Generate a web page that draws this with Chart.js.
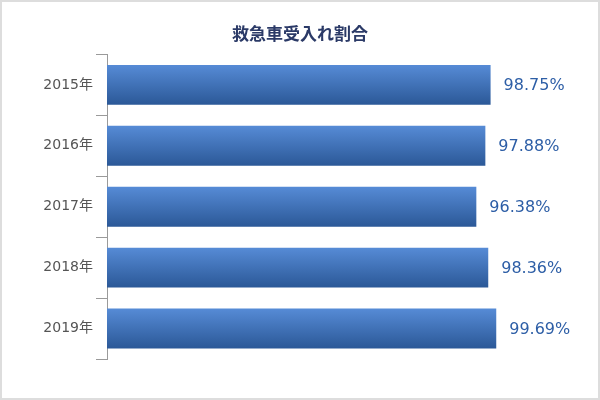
<!DOCTYPE html>
<html lang="ja">
<head>
<meta charset="utf-8">
<script src="https://cdn.jsdelivr.net/npm/chart.js@4"></script>
<style>
  html, body { margin: 0; padding: 0; background: #fff; }
  #wrap { width: 600px; height: 400px; box-sizing: border-box; border: 2px solid #dddddd; position: relative; }
  #wrap canvas { display: block; }
</style>
</head>
<body>
<div id="wrap"><canvas id="rateChart"></canvas></div>
<script>
// chart data
const years = ["2015年", "2016年", "2017年", "2018年", "2019年"];
const acceptRates = [98.75, 97.88, 96.38, 98.36, 99.69];
const chartTitle = "救急車受入れ割合";

const barShare = 0.655;

// vertical gradient for each bar, worked out from the category scale
function barFill(c) {
    const ys = c.chart.scales.y;
    if (!ys || !ys.height) return "#3f70b8";
    const mid = ys.getPixelForValue(c.dataIndex);
    const half = ys.height / years.length * barShare / 2;
    const g = c.chart.ctx.createLinearGradient(0, mid - half, 0, mid + half);
    g.addColorStop(0, "#568bd6");
    g.addColorStop(1, "#2b5897");
    return g;
}

// value labels to the right of each bar
const valueLabels = {
    id: "valueLabels",
    afterDatasetsDraw(chart) {
        const ctx = chart.ctx;
        ctx.save();
        ctx.font = "16px 'DejaVu Sans'";
        ctx.fillStyle = "#2d5ea6";
        ctx.textAlign = "left";
        ctx.textBaseline = "middle";
        chart.getDatasetMeta(0).data.forEach((bar, i) => {
            ctx.fillText(acceptRates[i].toFixed(2) + "%", bar.x + 13, bar.y + 1);
        });
        ctx.restore();
    }
};

new Chart(document.getElementById("rateChart"), {
    type: "bar",
    data: {
        labels: years,
        datasets: [{
            data: acceptRates,
            backgroundColor: barFill,
            barPercentage: barShare,
            categoryPercentage: 1
        }]
    },
    options: {
        indexAxis: "y",
        responsive: true,
        maintainAspectRatio: false,
        animation: false,
        layout: { padding: { bottom: 39 } },
        plugins: {
            legend: { display: false },
            tooltip: { enabled: false },
            title: {
                display: true,
                text: chartTitle,
                color: "#2b3a67",
                font: { family: "'Noto Sans CJK JP'", size: 17, weight: "bold" },
                padding: { top: 21, bottom: 11 }
            }
        },
        scales: {
            x: { display: false, min: 35, max: 116.6 },
            y: {
                afterFit(scale) { scale.width = 105; },
                border: { display: true, color: "#9a9a9a", width: 1 },
                grid: { offset: true, drawOnChartArea: false, drawTicks: true, tickLength: 11, color: "#9a9a9a" },
                ticks: {
                    color: "#555555",
                    padding: 3,
                    font: { family: "'DejaVu Sans', 'Noto Sans CJK JP'", size: 14 }
                }
            }
        }
    },
    plugins: [valueLabels]
});
</script>
</body>
</html>
